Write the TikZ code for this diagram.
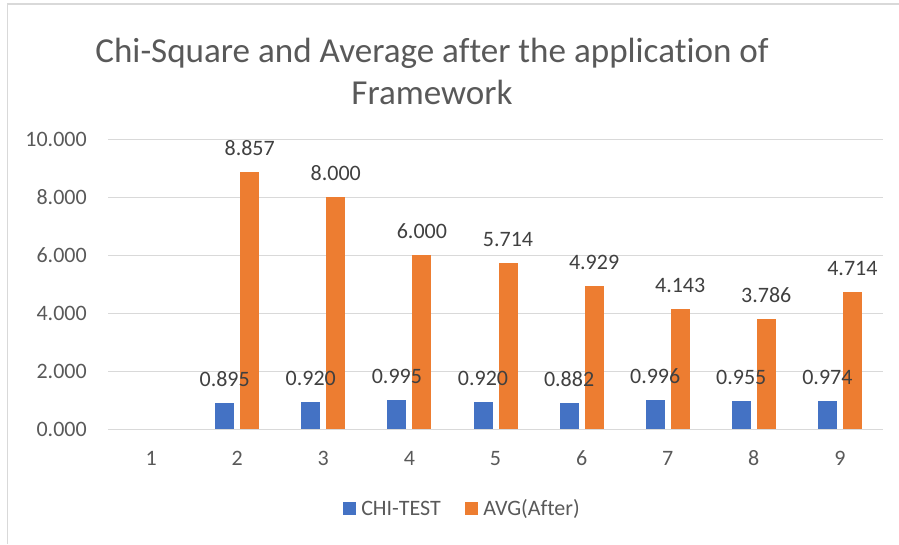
\documentclass[tikz,border=0pt]{standalone}
\usepackage{fontspec}
\setmainfont{Carlito}[Ligatures=NoCommon]
\usepackage{tikz}
\definecolor{chiblue}{HTML}{4472C4}
\definecolor{avgorange}{HTML}{ED7D31}
\definecolor{gridgray}{HTML}{D9D9D9}
\definecolor{axistext}{HTML}{595959}
\definecolor{valtext}{HTML}{404040}

\begin{document}
\begin{tikzpicture}[
  x=0.75pt,
  y=-0.75pt,
  gridline/.style={
    draw=gridgray,
    line width=0.75pt
  },
  ticklabel/.style={
    text=axistext,
    font=\fontsize{16.5}{20}\selectfont,
    inner sep=0pt
  },
  vallabel/.style={
    text=valtext,
    font=\fontsize{16.5}{20}\selectfont,
    anchor=base,
    inner sep=0pt
  },
  titletext/.style={
    text=axistext,
    font=\fontsize{26.3}{32}\selectfont,
    anchor=base,
    inner sep=0pt
  },
  chibar/.style={fill=chiblue},
  avgbar/.style={fill=avgorange}
]
\useasboundingbox (0,0) rectangle (899,544);
% chart frame (only left and top edges show)
\draw[draw=gridgray, line width=1.1pt] (7.5,544) -- (7.5,4) -- (899,4);

% title
\node[titletext] (title1) at (432,62) {Chi-Square and Average after the application of};
\node[titletext] (title2) at (432,104.5) {Framework};

% gridlines and value axis
\draw[gridline] (108,429) -- (883,429);
\draw[gridline] (108,371) -- (883,371);
\draw[gridline] (108,313) -- (883,313);
\draw[gridline] (108,255) -- (883,255);
\draw[gridline] (108,197) -- (883,197);
\draw[gridline] (108,139) -- (883,139);
\node[ticklabel, anchor=east] (y0) at (87,429) {0.000};
\node[ticklabel, anchor=east] (y2) at (87,371) {2.000};
\node[ticklabel, anchor=east] (y4) at (87,313) {4.000};
\node[ticklabel, anchor=east] (y6) at (87,255) {6.000};
\node[ticklabel, anchor=east] (y8) at (87,197) {8.000};
\node[ticklabel, anchor=east] (y10) at (87,139) {10.000};

% CHI-TEST bars
\fill[chibar] (215.2,429) rectangle (234.2,403.0);
\fill[chibar] (301.3,429) rectangle (320.3,402.3);
\fill[chibar] (387.4,429) rectangle (406.4,400.1);
\fill[chibar] (473.5,429) rectangle (492.5,402.3);
\fill[chibar] (559.6,429) rectangle (578.6,403.4);
\fill[chibar] (645.7,429) rectangle (664.7,400.1);
\fill[chibar] (731.8,429) rectangle (750.8,401.3);
\fill[chibar] (817.9,429) rectangle (836.9,400.8);

% AVG(After) bars
\fill[avgbar] (240.2,429) rectangle (259.2,172.1);
\fill[avgbar] (326.3,429) rectangle (345.3,197.0);
\fill[avgbar] (412.4,429) rectangle (431.4,255.0);
\fill[avgbar] (498.5,429) rectangle (517.5,263.3);
\fill[avgbar] (584.6,429) rectangle (603.6,286.1);
\fill[avgbar] (670.7,429) rectangle (689.7,308.9);
\fill[avgbar] (756.8,429) rectangle (775.8,319.2);
\fill[avgbar] (842.9,429) rectangle (861.9,292.3);

% data labels
\node[vallabel] (chi2) at (224.7,386.5) {0.895};
\node[vallabel] (chi3) at (310.8,385.8) {0.920};
\node[vallabel] (chi4) at (396.9,383.6) {0.995};
\node[vallabel] (chi5) at (483.0,385.8) {0.920};
\node[vallabel] (chi6) at (569.1,386.9) {0.882};
\node[vallabel] (chi7) at (655.2,383.6) {0.996};
\node[vallabel] (chi8) at (741.3,384.8) {0.955};
\node[vallabel] (chi9) at (827.4,384.3) {0.974};
\node[vallabel] (avg2) at (249.7,155.6) {8.857};
\node[vallabel] (avg3) at (335.8,180.5) {8.000};
\node[vallabel] (avg4) at (421.9,238.5) {6.000};
\node[vallabel] (avg5) at (508.0,246.8) {5.714};
\node[vallabel] (avg6) at (594.1,269.6) {4.929};
\node[vallabel] (avg7) at (680.2,292.4) {4.143};
\node[vallabel] (avg8) at (766.3,302.7) {3.786};
\node[vallabel] (avg9) at (852.4,275.8) {4.714};

% category axis
\node[ticklabel, anchor=base] (x1) at (151.1,465) {1};
\node[ticklabel, anchor=base] (x2) at (237.2,465) {2};
\node[ticklabel, anchor=base] (x3) at (323.3,465) {3};
\node[ticklabel, anchor=base] (x4) at (409.4,465) {4};
\node[ticklabel, anchor=base] (x5) at (495.5,465) {5};
\node[ticklabel, anchor=base] (x6) at (581.6,465) {6};
\node[ticklabel, anchor=base] (x7) at (667.7,465) {7};
\node[ticklabel, anchor=base] (x8) at (753.8,465) {8};
\node[ticklabel, anchor=base] (x9) at (839.9,465) {9};

% legend
\fill[chibar] (343,502) rectangle (356,515);
\node[ticklabel, anchor=base west] (chikey) at (361,515) {CHI-TEST};
\fill[avgbar] (465,502) rectangle (478,515);
\node[ticklabel, anchor=base west] (avgkey) at (483,515) {AVG(After)};
\end{tikzpicture}
\end{document}
